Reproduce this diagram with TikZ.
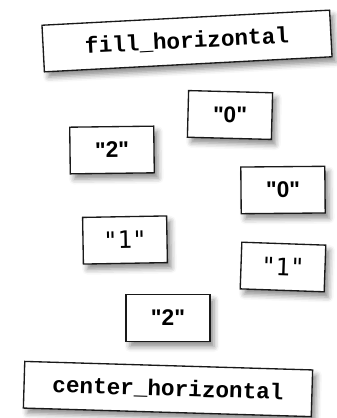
\documentclass[tikz,border=0pt]{standalone}
\usepackage{fontspec}
\setmainfont{Liberation Sans}
\newfontfamily\labelmono{Liberation Mono}
\newfontfamily\digitmono{DejaVu Sans Mono}
\usetikzlibrary{shadows.blur}
\newcommand{\quoted}[1]{\textquotedbl#1\textquotedbl}

\begin{document}
\begin{tikzpicture}[x=0.75pt,y=-0.75pt,
  card/.style={draw=black!90,line width=1pt,fill=white,
    blur shadow={shadow xshift=3pt,shadow yshift=-4pt,shadow blur radius=4pt,shadow opacity=45}},
  title/.style={card,minimum width=216pt,minimum height=35pt,font=\labelmono\bfseries\fontsize{17}{19}\selectfont},
  entry/.style={card,minimum width=63pt,minimum height=35pt,font=\bfseries\fontsize{17}{19}\selectfont},
  oneentry/.style={entry,font=\digitmono\fontsize{18}{20}\selectfont}]
  \useasboundingbox (0,0) rectangle (336,418);
  % Top label
  \node[title,rotate=3] (fillh) at (187,41) {fill\_horizontal};
  % Strings to lay out
  \node[entry,rotate=-1.5] (zeroA) at (230,115) {\quoted{0}};
  \node[entry,rotate=0.7] (twoA) at (112,150) {\quoted{2}};
  \node[entry,rotate=0.5] (zeroB) at (283,190) {\quoted{0}};
  \node[oneentry,rotate=1] (oneA) at (125,240) {\quoted{1}};
  \node[oneentry,rotate=-2] (oneB) at (283,267) {\quoted{1}};
  \node[entry] (twoB) at (168,318) {\quoted{2}};
  % Bottom label
  \node[title,rotate=-1.7] (centerh) at (168,389) {center\_horizontal};
\end{tikzpicture}
\end{document}
